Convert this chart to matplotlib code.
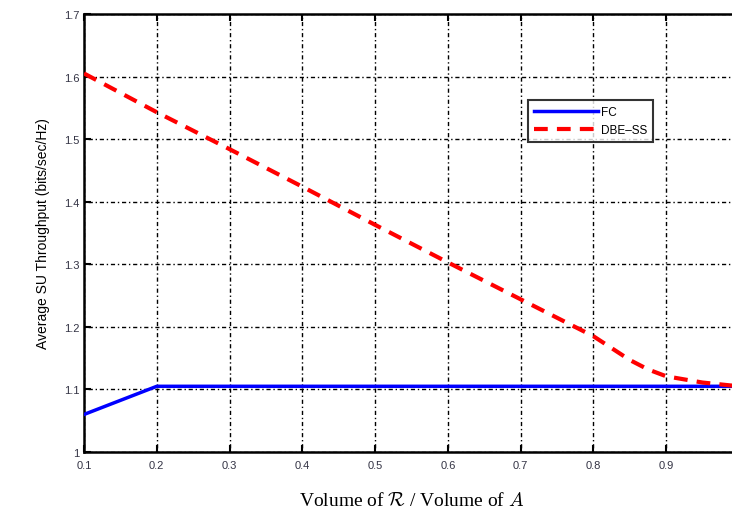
import numpy as np
import matplotlib
matplotlib.use('Agg')
import matplotlib.pyplot as plt

# data
x_fc = [0.1, 0.2, 0.3, 0.4, 0.5, 0.6, 0.7, 0.8, 0.9, 1.0]
y_fc = [1.060, 1.105, 1.105, 1.105, 1.105, 1.105, 1.105, 1.105, 1.105, 1.105]

x_dbe = [0.1, 0.2, 0.3, 0.4, 0.5, 0.6, 0.7, 0.8, 0.825, 0.85, 0.875, 0.9, 0.95, 1.0]
y_dbe = [1.605, 1.543, 1.484, 1.424, 1.363, 1.303, 1.244, 1.185, 1.166, 1.147, 1.132, 1.121, 1.111, 1.105]

x_ticks = [0.1, 0.2, 0.3, 0.4, 0.5, 0.6, 0.7, 0.8, 0.9, 1.0]
x_ticklabels = ['0.1', '0.2', '0.3', '0.4', '0.5', '0.6', '0.7', '0.8', '0.9', '']
y_ticks = [1.0, 1.1, 1.2, 1.3, 1.4, 1.5, 1.6, 1.7]
y_ticklabels = ['1', '1.1', '1.2', '1.3', '1.4', '1.5', '1.6', '1.7']

plt.rcParams['font.family'] = ['Liberation Sans', 'DejaVu Sans']
plt.rcParams['mathtext.fontset'] = 'cm'

fig = plt.figure(figsize=(7.32, 5.10), dpi=100)
# right edge of the axes sits just past the figure, as in the cropped original
ax = fig.add_axes([84 / 732, 57 / 510, 655 / 732, 438 / 510])

ax.plot(x_fc, y_fc, color='#0000ff', lw=2.5, label='FC', zorder=3)
ax.plot(x_dbe, y_dbe, color='#ff0000', lw=3, ls=(0, (3.3, 2.2)), label='DBE\u2013SS', zorder=3)

ax.set_xlim(0.1, 1.0)
ax.set_ylim(1.0, 1.7)
ax.set_xticks(x_ticks)
ax.set_xticklabels(x_ticklabels)
ax.set_yticks(y_ticks)
ax.set_yticklabels(y_ticklabels)

ax.grid(True, color='black', ls=(0, (1, 2, 3, 2)), lw=1)
ax.tick_params(direction='in', top=True, right=True, length=5, width=1.5,
               labelsize=8, labelcolor='#333344', pad=3)
ax.tick_params(axis='x', pad=6)
for sp in ax.spines.values():
    sp.set_linewidth(1.8)

ax.set_ylabel('Average SU Throughput (bits/sec/Hz)', fontsize=10, labelpad=10)
ax.set_xlabel(r'Volume of $\mathcal{R}$ / Volume of $A$', fontsize=14,
              family='Liberation Serif', labelpad=15)

leg = ax.legend(loc='upper left', bbox_to_anchor=(0.678, 0.804), borderaxespad=0,
                fontsize=8.5, frameon=True, fancybox=False, edgecolor='black',
                handlelength=5.4, handletextpad=0.3, borderpad=0.5, labelspacing=0.5)
leg.get_frame().set_linewidth(1.5)

fig.savefig('out.png', dpi=100)
